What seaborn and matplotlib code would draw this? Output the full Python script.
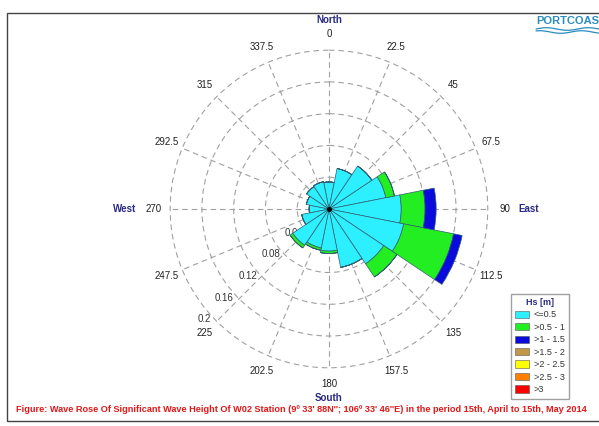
import numpy as np
import pandas as pd
import seaborn as sns
import matplotlib
matplotlib.use("Agg")
import matplotlib.pyplot as plt
from matplotlib.patches import Patch, Rectangle
from matplotlib.lines import Line2D

# Wave directions (degrees, clockwise from North), 16 sectors
directions = [0, 22.5, 45, 67.5, 90, 112.5, 135, 157.5,
              180, 202.5, 225, 247.5, 270, 292.5, 315, 337.5]

# Frequency of occurrence for each Hs class, per direction
hs_le_05 = [0.034, 0.052, 0.065, 0.073, 0.091, 0.096, 0.083, 0.075,
            0.053, 0.050, 0.055, 0.035, 0.025, 0.029, 0.034, 0.035]
hs_05_1 = [0.000, 0.000, 0.000, 0.011, 0.030, 0.064, 0.020, 0.000,
           0.003, 0.003, 0.004, 0.000, 0.000, 0.000, 0.000, 0.000]
hs_1_15 = [0.000, 0.000, 0.000, 0.000, 0.014, 0.011, 0.000, 0.000,
           0.000, 0.000, 0.000, 0.000, 0.000, 0.000, 0.000, 0.000]
hs_15_2 = [0.0] * 16
hs_2_25 = [0.0] * 16
hs_25_3 = [0.0] * 16
hs_gt_3 = [0.0] * 16

class_labels = ["<=0.5", ">0.5 - 1", ">1 - 1.5", ">1.5 - 2",
                ">2 - 2.5", ">2.5 - 3", ">3"]
class_colors = ["#2CEFFF", "#22EE22", "#0A0ADD", "#C09848",
                "#FFFF00", "#FF8000", "#FF0000"]

ring_values = [0.04, 0.08, 0.12, 0.16, 0.2]
angle_labels = ["0", "22.5", "45", "67.5", "90", "112.5", "135", "157.5",
                "180", "202.5", "225", "247.5", "270", "292.5", "315", "337.5"]

series = [hs_le_05, hs_05_1, hs_1_15, hs_15_2, hs_2_25, hs_25_3, hs_gt_3]
df = pd.DataFrame({
    "direction": np.tile(directions, len(class_labels)),
    "hs_class": np.repeat(class_labels, len(directions)),
    "freq": np.concatenate(series),
})
table = df.pivot(index="direction", columns="hs_class", values="freq")[class_labels]

sns.set_theme(style="white")
plt.rcParams["font.family"] = ["Liberation Sans", "DejaVu Sans"]

fig = plt.figure(figsize=(5.99, 4.26), dpi=100)
fig.patch.set_facecolor("white")

ax = fig.add_axes([0.2821, 0.1338, 0.5342, 0.7512], projection="polar")
ax.set_theta_zero_location("N")
ax.set_theta_direction(-1)
ax.set_ylim(0, 0.2015)
ax.set_xticks(np.deg2rad(directions))
ax.set_xticklabels([])
ax.set_yticks(ring_values)
ax.set_yticklabels([])
ax.grid(True, color="#a0a0a0", linestyle=(0, (5, 3.5)), linewidth=0.8)
ax.spines["polar"].set_visible(False)
ax.set_axisbelow(True)
ax.patch.set_alpha(0)

theta = np.deg2rad(table.index.values)
width = np.deg2rad(22.5)
bottom = np.zeros(len(theta))
for label, color in zip(class_labels, class_colors):
    vals = table[label].values
    if vals.sum() > 0:
        ax.bar(theta, vals, width=width, bottom=bottom, color=color,
               edgecolor="#2f5f70", linewidth=0.5, align="center", zorder=2)
    bottom = bottom + vals

ax.plot([0], [0], "o", color="black", markersize=2.5, zorder=4)

# Radial ring labels along the south-west spoke
for v in ring_values:
    ax.annotate(f"{v:g}", xy=(np.deg2rad(227), v), xytext=(-1.5, -1.5),
                textcoords="offset points", ha="right", va="center",
                fontsize=7, color="#333333", zorder=1, annotation_clip=False)

# Direction labels around the rose
for d, lab in zip(directions, angle_labels):
    ax.text(np.deg2rad(d), 0.221, lab, ha="center", va="center",
            fontsize=7, color="#222222", clip_on=False)

navy = "#2a2a86"
ax.text(0, 0.238, "North", ha="center", va="center", fontsize=7,
        fontweight="bold", color=navy, clip_on=False)
ax.text(np.pi, 0.238, "South", ha="center", va="center", fontsize=7,
        fontweight="bold", color=navy, clip_on=False)
ax.annotate("East", xy=(np.deg2rad(90), 0.221), xytext=(10, 0),
            textcoords="offset points", ha="left", va="center", fontsize=7,
            fontweight="bold", color=navy, annotation_clip=False)
ax.annotate("West", xy=(np.deg2rad(270), 0.225), xytext=(-10, 0),
            textcoords="offset points", ha="right", va="center", fontsize=7,
            fontweight="bold", color=navy, annotation_clip=False)

# Legend of significant wave height classes
handles = [Patch(facecolor=c, edgecolor="#555555", linewidth=0.4)
           for c in class_colors]
leg = fig.legend(handles, class_labels, title="Hs [m]",
                 loc="upper left", bbox_to_anchor=(506 / 599, 1 - 289 / 426),
                 fontsize=6.5, title_fontsize=6.5, frameon=True,
                 fancybox=False, edgecolor="#888888", handlelength=1.6,
                 handleheight=0.85, labelspacing=0.38, borderpad=0.5,
                 handletextpad=0.5)
leg.get_title().set_color(navy)
leg.get_title().set_fontweight("bold")
for t in leg.get_texts():
    t.set_color("#333333")

# Outer frame
fig.add_artist(Rectangle((7 / 599, 5 / 426), 1.2, 1 - 13 / 426 - 5 / 426,
                         transform=fig.transFigure, fill=False,
                         edgecolor="#444444", linewidth=1.0))

# Company mark in the corner
fig.text(536 / 599, 1 - 21 / 426, "PORTCOAS", ha="left", va="center",
         fontsize=8, fontweight="bold", color="#2a8cc0")
xs = np.linspace(536 / 599, 1.0, 60)
for k, yoff in enumerate([29, 32]):
    ys = 1 - yoff / 426 + 0.003 * np.sin((xs - xs[0]) * 90 + k)
    fig.add_artist(Line2D(xs, ys, transform=fig.transFigure,
                          color="#2a8cc0", linewidth=0.9))

fig.text(0.503, 1 - 410 / 426,
         "Figure: Wave Rose Of Significant Wave Height Of W02 Station "
         "(9º 33' 88N''; 106º 33' 46''E) in the period 15th, April to 15th, May 2014",
         ha="center", va="center", fontsize=6.55, fontweight="bold",
         color="#e01818")

fig.savefig("out.png", dpi=100, facecolor="white")
